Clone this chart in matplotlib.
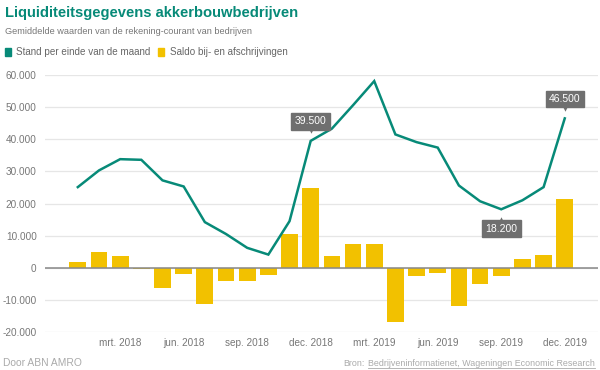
import matplotlib
matplotlib.use("Agg")
import matplotlib.pyplot as plt
import numpy as np
from matplotlib.transforms import ScaledTranslation

plt.rcParams['font.family'] = ['Liberation Sans', 'DejaVu Sans']

months = ["jan. 2018", "feb. 2018", "mrt. 2018", "apr. 2018", "mei 2018", "jun. 2018",
          "jul. 2018", "aug. 2018", "sep. 2018", "okt. 2018", "nov. 2018", "dec. 2018",
          "jan. 2019", "feb. 2019", "mrt. 2019", "apr. 2019", "mei 2019", "jun. 2019",
          "jul. 2019", "aug. 2019", "sep. 2019", "okt. 2019", "nov. 2019", "dec. 2019"]
stand = [25100, 30300, 33800, 33600, 27200, 25300, 14200, 10500, 6200, 4100, 14500, 39500,
         43300, 50600, 58100, 41500, 39100, 37400, 25600, 20700, 18200, 21000, 25100, 46500]
saldo = [1800, 4900, 3600, -500, -6400, -2100, -11300, -4200, -4000, -2300, 10600, 24800,
         3600, 7400, 7400, -16900, -2500, -1700, -11800, -5200, -2700, 2600, 4000, 21500]
tick_months = ["mrt. 2018", "jun. 2018", "sep. 2018", "dec. 2018",
               "mrt. 2019", "jun. 2019", "sep. 2019", "dec. 2019"]
yticks = [-20000, -10000, 0, 10000, 20000, 30000, 40000, 50000, 60000]
ytick_labels = ["-20.000", "-10.000", "0", "10.000", "20.000", "30.000", "40.000", "50.000", "60.000"]
labels_shown = {"dec. 2018": ("39.500", "above"), "sep. 2019": ("18.200", "below"),
                "dec. 2019": ("46.500", "above")}

TEAL = "#078a78"
YELLOW = "#f2c100"
GRAY_TXT = "#777777"
BOX = "#6f6f6f"

fig = plt.figure(figsize=(6, 3.7), dpi=100)
ax = fig.add_axes([45/600, (370-332)/370, (598-45)/600, (332-75)/370])

x = np.arange(len(months))
ax.bar(x, saldo, width=0.79, color=YELLOW, zorder=2)
ax.plot(x, stand, color=TEAL, lw=1.8, zorder=3, solid_joinstyle='miter')

ax.set_xlim(-1.55, 24.57)
ax.set_ylim(-20000, 60000)
ax.set_yticks(yticks)
ax.set_yticklabels(ytick_labels)
ax.set_xticks([months.index(m) for m in tick_months])
ax.set_xticklabels(tick_months)
ax.tick_params(axis='both', length=0, labelsize=7.2, colors=GRAY_TXT)
ax.tick_params(axis='y', pad=6)
ax.tick_params(axis='x', pad=4)
for s in ax.spines.values():
    s.set_visible(False)
ax.grid(axis='y', color="#e6e6e6", lw=0.9, zorder=0)
ax.axhline(0, color="#888888", lw=1.1, zorder=2.5)

for m, (txt, pos) in labels_shown.items():
    i = months.index(m)
    v = stand[i]
    sign = 1 if pos == "above" else -1
    marker = 'v' if pos == "above" else '^'
    ax.annotate(txt, (i, v), xytext=(0, sign * 14), textcoords='offset points',
                ha='center', va='center', color='white', fontsize=7.5, zorder=5,
                bbox=dict(boxstyle='square,pad=0.32', fc=BOX, ec=BOX))
    tr = ax.transData + ScaledTranslation(0, sign * 7.0 / 72, fig.dpi_scale_trans)
    ax.plot([i], [v], marker=marker, color=BOX, ms=3.2, mew=0, transform=tr, zorder=5,
            clip_on=False)

fig.text(5/600, 1-13/370, "Liquiditeitsgegevens akkerbouwbedrijven", color=TEAL,
         fontsize=10.6, fontweight='bold', va='center', ha='left')
fig.text(5/600, 1-32/370, "Gemiddelde waarden van de rekening-courant van bedrijven",
         color=GRAY_TXT, fontsize=6.6, va='center', ha='left')

# legend
fig.patches.append(plt.Rectangle((5/600, 1-55.5/370), 6/600, 7/370, transform=fig.transFigure,
                                 color=TEAL))
fig.text(16/600, 1-52/370, "Stand per einde van de maand", color="#666666", fontsize=7.1,
         va='center', ha='left')
fig.patches.append(plt.Rectangle((158/600, 1-55.5/370), 6/600, 7/370, transform=fig.transFigure,
                                 color=YELLOW))
fig.text(170/600, 1-52/370, "Saldo bij- en afschrijvingen", color="#666666", fontsize=7.1,
         va='center', ha='left')

fig.text(3/600, 1-363/370, "Door ABN AMRO", color="#aaaaaa", fontsize=7.4, va='center', ha='left')
src = fig.text(595/600, 1-363/370, "Bedrijveninformatienet, Wageningen Economic Research",
               color="#aaaaaa", fontsize=6.4, va='center', ha='right')
fig.canvas.draw()
bb = src.get_window_extent()
fig.text(bb.x0/600 - 3/600, 1-363/370, "Bron:", color="#aaaaaa", fontsize=6.4, va='center', ha='right')
fig.lines.append(plt.Line2D([bb.x0/600, bb.x1/600], [(bb.y0-0.5)/370, (bb.y0-0.5)/370],
                            transform=fig.transFigure, color="#aaaaaa", lw=0.6))

fig.savefig("out.png", dpi=100)
